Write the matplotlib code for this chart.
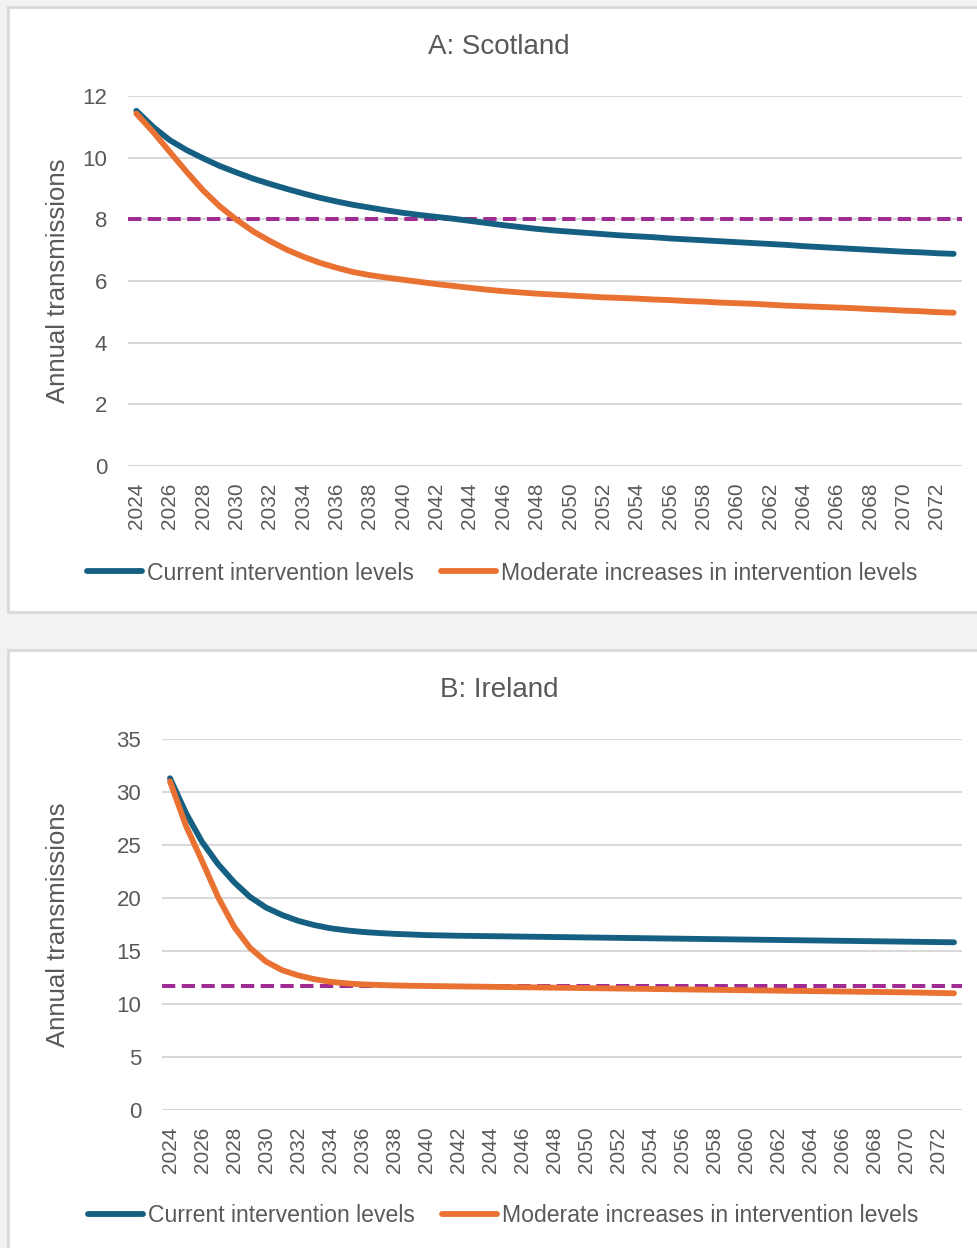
import matplotlib
matplotlib.use("Agg")
import matplotlib.pyplot as plt
from matplotlib.patches import Rectangle

# Years on the category axis
years = list(range(2024, 2074))
tick_years = list(range(2024, 2073, 2))

# A: Scotland
scot_current = [11.52, 11.00, 10.57, 10.25, 9.98, 9.73, 9.52, 9.32, 9.15, 8.99,
                8.84, 8.70, 8.58, 8.47, 8.38, 8.29, 8.21, 8.14, 8.08, 8.02,
                7.95, 7.88, 7.81, 7.75, 7.69, 7.64, 7.60, 7.56, 7.52, 7.48,
                7.45, 7.42, 7.38, 7.35, 7.32, 7.29, 7.26, 7.23, 7.20, 7.17,
                7.13, 7.10, 7.07, 7.04, 7.01, 6.98, 6.95, 6.93, 6.90, 6.88]
scot_moderate = [11.43, 10.84, 10.19, 9.55, 8.94, 8.42, 7.99, 7.61, 7.30, 7.02,
                 6.79, 6.59, 6.43, 6.29, 6.19, 6.11, 6.04, 5.97, 5.90, 5.84,
                 5.78, 5.72, 5.67, 5.63, 5.59, 5.56, 5.53, 5.50, 5.47, 5.45,
                 5.43, 5.40, 5.38, 5.35, 5.33, 5.30, 5.28, 5.26, 5.23, 5.20,
                 5.18, 5.16, 5.14, 5.12, 5.09, 5.07, 5.04, 5.02, 4.99, 4.97]
scot_target = 8.0

# B: Ireland
ire_current = [31.3, 28.0, 25.3, 23.2, 21.5, 20.1, 19.1, 18.4, 17.85, 17.45,
               17.15, 16.95, 16.8, 16.7, 16.62, 16.56, 16.5, 16.47, 16.44, 16.42,
               16.4, 16.38, 16.36, 16.34, 16.32, 16.3, 16.28, 16.26, 16.24, 16.22,
               16.2, 16.18, 16.16, 16.14, 16.12, 16.1, 16.08, 16.06, 16.04, 16.02,
               16.0, 15.98, 15.96, 15.94, 15.92, 15.9, 15.88, 15.86, 15.84, 15.82]
ire_moderate = [31.0, 26.8, 23.5, 20.1, 17.3, 15.3, 14.0, 13.2, 12.7, 12.35,
                12.1, 11.95, 11.85, 11.8, 11.75, 11.72, 11.7, 11.68, 11.66, 11.64,
                11.62, 11.6, 11.58, 11.56, 11.54, 11.52, 11.5, 11.48, 11.46, 11.44,
                11.42, 11.4, 11.38, 11.36, 11.34, 11.32, 11.3, 11.28, 11.26, 11.24,
                11.22, 11.2, 11.18, 11.16, 11.14, 11.12, 11.1, 11.07, 11.04, 11.01]
ire_target = 11.7

labels = ["Current intervention levels", "Moderate increases in intervention levels"]
c_blue, c_orange, c_purple = "#156082", "#E97132", "#A02B93"
grey_txt = "#595959"
grid_c = "#D9D9D9"

plt.rcParams['font.family'] = ['Liberation Sans', 'DejaVu Sans']

W, H = 977, 1248
fig = plt.figure(figsize=(W / 100, H / 100), dpi=100, facecolor="#F2F2F2")

# white chart boxes (behind the axes)
for y0, y1 in [(7, 612), (650, 1260)]:
    fig.patches.append(Rectangle((8 / W, 1 - y1 / H), (990 - 8) / W, (y1 - y0) / H,
                                 transform=fig.transFigure, facecolor="white",
                                 edgecolor=grid_c, linewidth=2, zorder=-5))

panels = [
    dict(title="A: Scotland", cur=scot_current, mod=scot_moderate, target=scot_target,
         box=(128, 96, 962, 466), ylim=12, ystep=2, title_y=47, leg_y=573, leg_x=502),
    dict(title="B: Ireland", cur=ire_current, mod=ire_moderate, target=ire_target,
         box=(162, 739, 962, 1110), ylim=35, ystep=5, title_y=690, leg_y=1216, leg_x=503),
]

for p in panels:
    x0, y0, x1, y1 = p["box"]
    ax = fig.add_axes([x0 / W, 1 - y1 / H, (x1 - x0) / W, (y1 - y0) / H])
    ax.set_facecolor("none")
    ax.plot(years, p["cur"], color=c_blue, lw=4.2, solid_capstyle="round",
            solid_joinstyle="round", label=labels[0], zorder=3)
    ax.plot(years, p["mod"], color=c_orange, lw=4.2, solid_capstyle="round",
            solid_joinstyle="round", label=labels[1], zorder=3)
    ax.axhline(p["target"], color=c_purple, lw=2.9, linestyle=(0, (3.3, 1.6)), zorder=2)

    ax.set_xlim(2023.5, 2073.5)
    ax.set_ylim(0, p["ylim"])
    ax.set_yticks(range(0, p["ylim"] + 1, p["ystep"]))
    ax.set_xticks(tick_years)
    ax.set_xticklabels([str(t) for t in tick_years], rotation=90)
    ax.grid(axis="y", color=grid_c, lw=1.5)
    ax.set_axisbelow(True)
    for s in ax.spines.values():
        s.set_visible(False)
    ax.tick_params(axis="both", length=0, colors=grey_txt)
    ax.tick_params(axis="y", labelsize=16, pad=15)
    ax.tick_params(axis="x", labelsize=15, pad=12)

    fig.text(499 / W, 1 - p["title_y"] / H, p["title"], ha="center", va="center",
             fontsize=20, color=grey_txt)
    fig.text(58 / W, 1 - (y0 + y1) / 2 / H, "Annual transmissions", rotation=90,
             ha="center", va="center", fontsize=18.5, color=grey_txt)
    leg = ax.legend(loc="center", bbox_to_anchor=(p["leg_x"] / W, 1 - p["leg_y"] / H),
                    bbox_transform=fig.transFigure, ncol=2, frameon=False,
                    fontsize=16.6, handlelength=2.4, handletextpad=0.2,
                    columnspacing=1.2, borderaxespad=0)
    for t in leg.get_texts():
        t.set_color(grey_txt)

fig.savefig("out.png", dpi=100, facecolor=fig.get_facecolor())
